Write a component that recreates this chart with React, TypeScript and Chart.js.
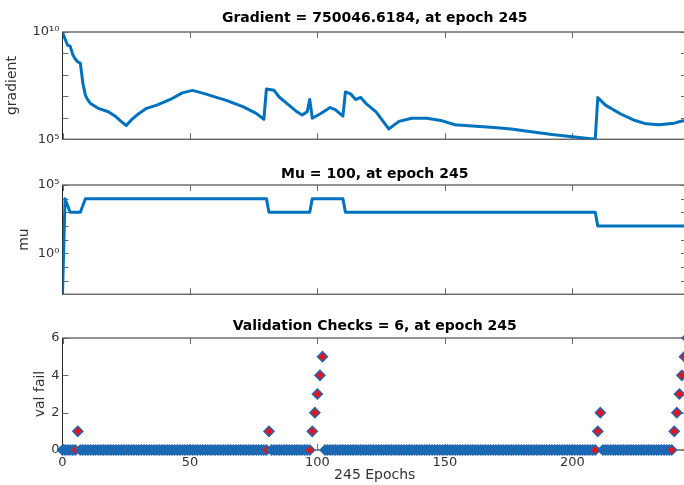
import { useEffect, useRef } from 'react';
import { Chart, registerables } from 'chart.js';

Chart.register(...registerables);

// ---------- data ----------
const gradEpochs = [0, 2, 3, 4, 5, 6, 7, 8, 9, 10, 11, 14, 18, 21, 23, 25, 27, 30, 33, 37, 43, 47, 51, 56, 61, 64, 71, 76, 79, 80, 83, 85, 88, 92, 94, 95, 96, 97, 98, 101, 105, 107, 110, 111, 113, 115, 117, 119, 123, 128, 132, 137, 143, 149, 154, 158, 168, 176, 181, 192, 209, 210, 213, 219, 224, 229, 234, 240, 243, 245];
const gradValues = [9.5e9, 2.4e9, 2.2e9, 9e8, 5.5e8, 4e8, 3.5e8, 4e7, 1.1e7, 6.6e6, 4.6e6, 2.75e6, 1.9e6, 1.1e6, 6.8e5, 4.3e5, 7.9e5, 1.6e6, 2.75e6, 3.9e6, 7.9e6, 1.45e7, 1.9e7, 1.3e7, 8.5e6, 6.6e6, 3.2e6, 1.6e6, 8.5e5, 2.2e7, 1.9e7, 9.3e6, 4.7e6, 1.9e6, 1.35e6, 1.6e6, 1.9e6, 7.1e6, 9.5e5, 1.5e6, 3e6, 2.4e6, 1.2e6, 1.6e7, 1.3e7, 7.1e6, 8.9e6, 4.7e6, 1.9e6, 3e5, 6.8e5, 9.5e5, 9.5e5, 7.2e5, 4.7e5, 4.3e5, 3.6e5, 3e5, 2.5e5, 1.66e5, 1.0e5, 8.7e6, 3.9e6, 1.5e6, 7.9e5, 5.2e5, 4.7e5, 5.6e5, 7.1e5, 750046.6184];

const muEpochs = [0, 1, 3, 7, 9, 80, 81, 97, 98, 110, 111, 209, 210, 245];
const muValues = [1e-3, 1e4, 1e3, 1e3, 1e4, 1e4, 1e3, 1e3, 1e4, 1e4, 1e3, 1e3, 100, 100];

// validation failures, one value per epoch 0..245
const valFail = [
  0, 0, 0, 0, 0, 0, 1, 0, 0, 0, 0, 0, 0, 0, 0, 0, 0, 0, 0, 0,
  0, 0, 0, 0, 0, 0, 0, 0, 0, 0, 0, 0, 0, 0, 0, 0, 0, 0, 0, 0,
  0, 0, 0, 0, 0, 0, 0, 0, 0, 0, 0, 0, 0, 0, 0, 0, 0, 0, 0, 0,
  0, 0, 0, 0, 0, 0, 0, 0, 0, 0, 0, 0, 0, 0, 0, 0, 0, 0, 0, 0,
  0, 1, 0, 0, 0, 0, 0, 0, 0, 0, 0, 0, 0, 0, 0, 0, 0, 0, 1, 2,
  3, 4, 5, 0, 0, 0, 0, 0, 0, 0, 0, 0, 0, 0, 0, 0, 0, 0, 0, 0,
  0, 0, 0, 0, 0, 0, 0, 0, 0, 0, 0, 0, 0, 0, 0, 0, 0, 0, 0, 0,
  0, 0, 0, 0, 0, 0, 0, 0, 0, 0, 0, 0, 0, 0, 0, 0, 0, 0, 0, 0,
  0, 0, 0, 0, 0, 0, 0, 0, 0, 0, 0, 0, 0, 0, 0, 0, 0, 0, 0, 0,
  0, 0, 0, 0, 0, 0, 0, 0, 0, 0, 0, 0, 0, 0, 0, 0, 0, 0, 0, 0,
  0, 0, 0, 0, 0, 0, 0, 0, 0, 0, 1, 2, 0, 0, 0, 0, 0, 0, 0, 0,
  0, 0, 0, 0, 0, 0, 0, 0, 0, 0, 0, 0, 0, 0, 0, 0, 0, 0, 0, 0,
  1, 2, 3, 4, 5, 6,
];

const epochTicks = [0, 50, 100, 150, 200];
const gradTicks = [1e5, 1e6, 1e7, 1e8, 1e9, 1e10];
const gradTickLabels = ['10⁵', '', '', '', '', '10¹⁰'];
const muTicks = [1e-3, 1e-2, 1e-1, 1, 10, 100, 1e3, 1e4, 1e5];
const muTickLabels = ['', '', '', '10⁰', '', '', '', '', '10⁵'];
const valTicks = [0, 2, 4, 6];
const valTickLabels = ['0', '2', '4', '6'];

const titles = [
  'Gradient = 750046.6184, at epoch 245',
  'Mu = 100, at epoch 245',
  'Validation Checks = 6, at epoch 245',
];
const yTitles = ['gradient', 'mu', 'val fail'];
const xTitle = '245 Epochs';

// ---------- style ----------
const BLUE = '#0072BD';
const RED = '#e3141e';
const TEXT = '#333333';
const FAMILY = 'DejaVu Sans';
const CANVAS_W = 700;
const PLOT_LEFT = 62.5;
const PAD_RIGHT = 13;

const boxPlugin = {
  id: 'matlabBox',
  beforeDatasetsDraw(chart: any) {
    const { ctx, chartArea, scales } = chart;
    const { left, right, top, bottom } = chartArea;
    ctx.save();
    ctx.strokeStyle = '#262626';
    ctx.lineWidth = 1;
    ctx.strokeRect(left, top, right - left, bottom - top);
    ctx.strokeStyle = '#6a6a6a';
    const tl = 6;
    ctx.beginPath();
    scales.x.ticks.forEach((t: any) => {
      const px = Math.round(scales.x.getPixelForValue(t.value)) + 0.5;
      ctx.moveTo(px, bottom);
      ctx.lineTo(px, bottom - tl);
      ctx.moveTo(px, top);
      ctx.lineTo(px, top + tl);
    });
    scales.y.ticks.forEach((t: any) => {
      const py = Math.round(scales.y.getPixelForValue(t.value)) + 0.5;
      ctx.moveTo(left, py);
      ctx.lineTo(left + tl, py);
      ctx.moveTo(right, py);
      ctx.lineTo(right - tl, py);
    });
    ctx.stroke();
    ctx.restore();
  },
};

function font(size: number, weight: string = 'normal', lineHeight = 1.2) {
  return { family: FAMILY, size, weight, lineHeight };
}

function xScale(showLabels: boolean, height: number) {
  return {
    type: 'linear',
    min: 0,
    max: 245,
    grid: { display: false, drawTicks: false },
    border: { display: false },
    afterBuildTicks: (s: any) => {
      s.ticks = epochTicks.map((v) => ({ value: v }));
    },
    afterFit: (s: any) => {
      s.height = height;
    },
    ticks: {
      display: showLabels,
      autoSkip: false,
      maxRotation: 0,
      includeBounds: false,
      padding: 5,
      color: TEXT,
      font: font(13),
      callback: (v: any) => String(v),
    },
    title: showLabels
      ? {
          display: true,
          text: xTitle,
          color: TEXT,
          font: font(14, 'normal', 1),
          padding: { top: 0, bottom: 3 },
        }
      : { display: false },
  };
}

function yScale(
  type: string,
  min: number,
  max: number,
  ticks: number[],
  labels: string[],
  title: string,
  titlePad: number
) {
  return {
    type,
    min,
    max,
    grid: { display: false, drawTicks: false },
    border: { display: false },
    afterBuildTicks: (s: any) => {
      s.ticks = ticks.map((v) => ({ value: v }));
    },
    afterFit: (s: any) => {
      s.width = PLOT_LEFT;
    },
    ticks: {
      autoSkip: false,
      padding: 3,
      color: TEXT,
      font: font(13),
      callback: (_v: any, i: number) => labels[i],
    },
    title: {
      display: true,
      text: title,
      color: TEXT,
      font: font(14),
      padding: { top: titlePad, bottom: 0 },
    },
  };
}

function baseOptions(titleText: string, tTop: number, tBottom: number) {
  return {
    responsive: false,
    animation: false,
    events: [],
    layout: { padding: { left: 0, right: PAD_RIGHT, top: 0, bottom: 0 } },
    plugins: {
      legend: { display: false },
      tooltip: { enabled: false },
      title: {
        display: true,
        text: titleText,
        fullSize: false,
        color: '#000',
        font: font(14, 'bold'),
        padding: { top: tTop, bottom: tBottom },
      },
    },
  };
}

export default function App() {
  const r1 = useRef<HTMLCanvasElement>(null);
  const r2 = useRef<HTMLCanvasElement>(null);
  const r3 = useRef<HTMLCanvasElement>(null);

  useEffect(() => {
    const charts: Chart[] = [];

    charts.push(
      new Chart(r1.current as HTMLCanvasElement, {
        type: 'line',
        data: {
          datasets: [
            {
              data: gradEpochs.map((e, i) => ({ x: e, y: gradValues[i] })),
              borderColor: BLUE,
              borderWidth: 3,
              pointRadius: 0,
              tension: 0,
              fill: false,
              borderJoinStyle: 'round',
            },
          ],
        },
        options: {
          ...baseOptions(titles[0], 9.6, 5.6),
          scales: {
            x: xScale(false, 9),
            y: yScale('logarithmic', 1e5, 1e10, gradTicks, gradTickLabels, yTitles[0], 3.6),
          },
        } as any,
        plugins: [boxPlugin],
      } as any)
    );

    charts.push(
      new Chart(r2.current as HTMLCanvasElement, {
        type: 'line',
        data: {
          datasets: [
            {
              data: muEpochs.map((e, i) => ({ x: e, y: muValues[i] })),
              borderColor: BLUE,
              borderWidth: 3,
              pointRadius: 0,
              tension: 0,
              fill: false,
              borderJoinStyle: 'round',
            },
          ],
        },
        options: {
          ...baseOptions(titles[1], 15.6, 2.6),
          scales: {
            x: xScale(false, 10),
            y: yScale('logarithmic', 1e-3, 1e5, muTicks, muTickLabels, yTitles[1], 15.6),
          },
        } as any,
        plugins: [boxPlugin],
      } as any)
    );

    charts.push(
      new Chart(r3.current as HTMLCanvasElement, {
        type: 'line',
        data: {
          datasets: [
            {
              data: valFail.map((v, i) => ({ x: i, y: v })),
              showLine: false,
              clip: false,
              pointStyle: 'rectRot',
              pointRadius: 5,
              pointBorderWidth: 1.5,
              pointBorderColor: '#2466b0',
              pointBackgroundColor: (c: any) => {
                const i = c.dataIndex;
                const v = valFail[i];
                const next = valFail[i + 1];
                return v > 0 || next === undefined || next > 0 ? RED : BLUE;
              },
            },
          ],
        },
        options: {
          ...baseOptions(titles[2], 12.6, 3.6),
          scales: {
            x: xScale(true, 35),
            y: yScale('linear', 0, 6, valTicks, valTickLabels, yTitles[2], 31.6),
          },
        } as any,
        plugins: [boxPlugin],
      } as any)
    );

    return () => charts.forEach((c) => c.destroy());
  }, []);

  const canvasStyle = (top: number, h: number): React.CSSProperties => ({
    position: 'absolute',
    left: 0,
    top,
    width: CANVAS_W,
    height: h,
    display: 'block',
  });

  return (
    <div
      style={{
        position: 'fixed',
        left: 0,
        top: 0,
        width: 684,
        height: 485,
        overflow: 'hidden',
        background: '#fff',
      }}
    >
      <canvas ref={r1} width={CANVAS_W} height={150} style={canvasStyle(0, 150)} />
      <canvas ref={r2} width={CANVAS_W} height={155} style={canvasStyle(150, 155)} />
      <canvas ref={r3} width={CANVAS_W} height={180} style={canvasStyle(305, 180)} />
    </div>
  );
}
